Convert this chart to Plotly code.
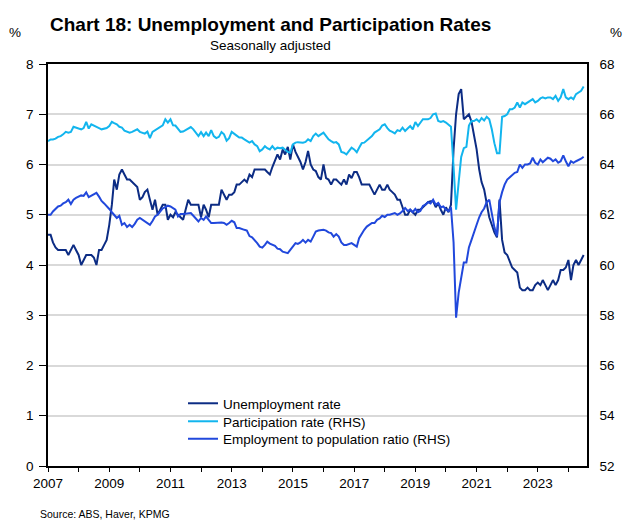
import pandas as pd
import plotly.graph_objects as go

# Monthly series, seasonally adjusted, starting January 2007
start_month = "2007-01-01"

unemployment = [
    4.6, 4.6, 4.45, 4.35, 4.3, 4.3, 4.3, 4.3, 4.2, 4.3, 4.4, 4.3,            # 2007
    4.2, 4.0, 4.1, 4.2, 4.2, 4.2, 4.15, 4.0, 4.3, 4.3, 4.4, 4.5,             # 2008
    4.8, 5.2, 5.7, 5.5, 5.8, 5.9, 5.8, 5.7, 5.7, 5.65, 5.6, 5.55,            # 2009
    5.3, 5.35, 5.45, 5.5, 5.3, 5.1, 5.3, 5.0, 5.1, 5.2, 5.2, 4.9,            # 2010
    5.0, 4.95, 5.05, 5.0, 4.95, 4.9, 5.1, 5.3, 5.2, 5.2, 5.2, 5.2,           # 2011
    4.95, 5.2, 5.1, 4.95, 5.2, 5.2, 5.2, 5.2, 5.5, 5.4, 5.3, 5.4,            # 2012
    5.4, 5.45, 5.6, 5.6, 5.65, 5.7, 5.65, 5.8, 5.75, 5.9, 5.9, 5.9,          # 2013
    5.9, 5.9, 5.85, 5.8, 5.95, 6.1, 6.2, 6.1, 6.3, 6.2, 6.35, 6.1,           # 2014
    6.4, 6.25, 6.15, 6.05, 5.9, 6.05, 6.27, 6.0, 5.9, 5.87, 5.75, 5.7,       # 2015
    6.0, 5.73, 5.7, 5.6, 5.7, 5.7, 5.65, 5.6, 5.7, 5.6, 5.8, 5.73,           # 2016
    5.85, 5.85, 5.75, 5.6, 5.6, 5.6, 5.6, 5.5, 5.4, 5.5, 5.6, 5.5,           # 2017
    5.5, 5.6, 5.5, 5.45, 5.4, 5.3, 5.3, 5.15, 5.0, 5.0, 5.1, 5.05,           # 2018
    5.0, 5.1, 5.1, 5.15, 5.2, 5.25, 5.27, 5.27, 5.15, 5.23, 5.1, 5.0,        # 2019
    5.15, 5.05, 5.2, 6.3, 7.0, 7.4, 7.5, 6.9, 6.95, 7.0, 6.85, 6.6,          # 2020
    6.3, 5.9, 5.65, 5.5, 5.2, 4.95, 4.8, 4.65, 4.55, 5.3, 4.5, 4.25,         # 2021
    4.2, 4.05, 3.95, 3.9, 3.85, 3.55, 3.5, 3.5, 3.55, 3.5, 3.5, 3.6,         # 2022
    3.65, 3.6, 3.7, 3.6, 3.5, 3.6, 3.7, 3.6, 3.7, 3.9, 3.9, 3.95,            # 2023
    4.1, 3.7, 4.0, 4.1, 4.0, 4.1, 4.2,                                       # 2024
]

participation = [
    64.93, 65.0, 65.0, 65.03, 65.1, 65.13, 65.2, 65.3, 65.27, 65.3, 65.5, 65.45,      # 2007
    65.43, 65.4, 65.45, 65.7, 65.43, 65.6, 65.56, 65.5, 65.45, 65.4, 65.43, 65.45,    # 2008
    65.53, 65.7, 65.65, 65.6, 65.5, 65.47, 65.35, 65.3, 65.27, 65.3, 65.35, 65.4,     # 2009
    65.3, 65.25, 65.23, 65.31, 65.05, 65.3, 65.37, 65.43, 65.5, 65.56, 65.8, 65.67,   # 2010
    65.8, 65.56, 65.55, 65.4, 65.3, 65.31, 65.37, 65.45, 65.49, 65.4, 65.25, 65.13,   # 2011
    65.29, 65.13, 65.27, 65.13, 65.37, 65.13, 65.05, 65.1, 65.29, 65.2, 64.95, 65.05, # 2012
    65.3, 65.2, 65.15, 65.07, 65.07, 65.0, 64.93, 64.87, 64.93, 64.8, 64.73, 64.53,   # 2013
    64.6, 64.73, 64.65, 64.6, 64.73, 64.6, 64.67, 64.65, 64.67, 64.6, 64.5, 64.47,    # 2014
    64.8, 64.87, 64.89, 64.88, 64.87, 64.9, 65.0, 64.93, 65.13, 65.23, 65.13, 65.2,   # 2015
    65.27, 65.13, 65.0, 64.93, 64.87, 64.89, 64.8, 64.5, 64.47, 64.4, 64.55, 64.67,   # 2016
    64.6, 64.49, 64.67, 64.85, 64.87, 64.95, 65.03, 65.13, 65.27, 65.35, 65.4, 65.55, # 2017
    65.6, 65.45, 65.35, 65.3, 65.24, 65.37, 65.33, 65.47, 65.33, 65.43, 65.53, 65.4,  # 2018
    65.69, 65.53, 65.67, 65.8, 65.8, 65.8, 65.85, 66.0, 66.03, 65.73, 65.69, 65.73,   # 2019
    65.67, 65.6, 65.5, 63.9, 62.2, 63.3, 64.3, 64.65, 64.7, 65.55, 65.73, 65.73,      # 2020
    65.8, 65.7, 65.85, 65.75, 65.9, 65.8, 65.4, 64.85, 64.45, 64.45, 65.9, 65.93,     # 2021
    66.0, 66.2, 66.2, 66.27, 66.47, 66.27, 66.47, 66.4, 66.47, 66.53, 66.6, 66.47,    # 2022
    66.53, 66.63, 66.67, 66.63, 66.67, 66.67, 66.6, 66.73, 66.53, 66.67, 67.0, 66.67, # 2023
    66.6, 66.67, 66.6, 66.8, 66.87, 66.93, 67.1,                                      # 2024
]

emp_pop = [
    62.0, 62.0, 62.13, 62.25, 62.33, 62.36, 62.45, 62.5, 62.6, 62.43, 62.6, 62.67,    # 2007
    62.73, 62.77, 62.75, 62.89, 62.7, 62.75, 62.82, 62.87, 62.72, 62.55, 62.45, 62.36,# 2008
    62.23, 62.1, 62.0, 61.87, 61.96, 61.6, 61.67, 61.51, 61.6, 61.51, 61.64, 61.8,    # 2009
    61.87, 61.8, 61.73, 61.64, 61.6, 61.75, 61.93, 62.0, 62.15, 62.25, 62.3, 62.36,   # 2010
    62.33, 62.25, 62.2, 61.93, 62.03, 62.03, 62.05, 62.07, 62.07, 61.96, 61.85, 61.73,# 2011
    61.87, 61.8, 61.93, 61.77, 61.67, 61.67, 61.68, 61.68, 61.69, 61.67, 61.6, 61.67, # 2012
    61.76, 61.7, 61.47, 61.47, 61.42, 61.4, 61.37, 61.15, 61.1, 61.0, 60.87, 60.73,   # 2013
    60.69, 60.8, 60.93, 60.85, 60.8, 60.76, 60.65, 60.63, 60.53, 60.5, 60.47, 60.6,   # 2014
    60.73, 60.87, 60.84, 60.9, 61.0, 60.89, 61.0, 60.93, 61.13, 61.33, 61.37, 61.4,   # 2015
    61.4, 61.37, 61.3, 61.27, 61.13, 61.23, 61.13, 60.9, 60.8, 60.8, 60.83, 60.87,    # 2016
    60.8, 60.73, 61.07, 61.27, 61.4, 61.53, 61.6, 61.67, 61.67, 61.8, 61.85, 61.96,   # 2017
    61.91, 62.0, 62.0, 62.03, 62.07, 62.0, 62.05, 62.15, 62.27, 62.15, 62.2, 62.1,    # 2018
    62.23, 62.1, 62.15, 62.35, 62.4, 62.5, 62.45, 62.6, 62.4, 62.47, 62.3, 62.33,     # 2019
    62.2, 62.15, 62.3, 60.9, 57.9, 58.9, 59.5, 60.1, 60.1, 60.7, 61.0, 61.33,         # 2020
    61.6, 61.9, 62.1, 62.25, 62.5, 62.6, 62.1, 61.5, 61.15, 62.5, 62.9, 63.2,         # 2021
    63.4, 63.5, 63.6, 63.67, 63.7, 64.0, 63.87, 64.0, 64.0, 64.04, 64.27, 64.07,      # 2022
    64.0, 64.2, 64.09, 64.2, 64.27, 64.23, 64.13, 64.2, 64.07, 64.13, 64.36, 64.13,   # 2023
    63.93, 64.13, 64.07, 64.13, 64.17, 64.23, 64.31,                                  # 2024
]

series_names = [
    "Unemployment rate",
    "Participation rate (RHS)",
    "Employment to population ratio (RHS)",
]
series_colors = ["#0C2C84", "#12B5EE", "#2148DC"]

left_ticks = list(range(0, 9, 1))
right_ticks = list(range(52, 69, 2))
tick_years = list(range(2007, 2025))

months = pd.date_range(start_month, periods=len(unemployment), freq="MS")

FONT = "Liberation Sans, Arial, sans-serif"
W, H = 626, 520
M_L, M_R, M_T, M_B = 48, 39, 64, 54
PW, PH = W - M_L - M_R, H - M_T - M_B


def px_x(x):
    return (x - M_L) / PW


def px_y(y):
    return (H - M_B - y) / PH


fig = go.Figure()
legend_ids = ["legend", "legend2", "legend3"]
axes = ["y", "y2", "y2"]
values = [unemployment, participation, emp_pop]
for name, color, vals, ax, lg in zip(series_names, series_colors, values, axes, legend_ids):
    fig.add_trace(go.Scatter(x=months, y=vals, name=name, mode="lines",
                             line=dict(color=color, width=2), yaxis=ax, legend=lg))

# one legend box per row, stacked under the lines
legend_rows = {}
for lg, top in zip(legend_ids, [388, 406, 423.5]):
    legend_rows[lg] = dict(x=px_x(183), y=px_y(top), xanchor="left", yanchor="top",
                           bgcolor="rgba(0,0,0,0)", borderwidth=0,
                           font=dict(family=FONT, size=13.5, color="black"))

fig.update_layout(
    width=W, height=H,
    margin=dict(l=M_L, r=M_R, t=M_T, b=M_B, pad=0),
    paper_bgcolor="white", plot_bgcolor="white",
    font=dict(family=FONT, size=13.5, color="black"),
    showlegend=True,
    **legend_rows,
    xaxis=dict(
        type="date",
        range=[months[0], "2024-08-10"],
        tickvals=[f"{y}-01-01" for y in tick_years],
        ticktext=[str(y) if y % 2 == 1 else "" for y in tick_years],
        ticks="outside", ticklen=4, tickcolor="black", tickwidth=1,
        showline=True, linecolor="black", linewidth=1.5, mirror=True,
        showgrid=False, zeroline=False,
        tickfont=dict(size=13.5),
    ),
    yaxis=dict(
        range=[0, 8], tickvals=left_ticks,
        ticks="outside", ticklen=7, tickcolor="black",
        showline=True, linecolor="black", linewidth=1.5,
        showgrid=True, gridcolor="#d9d9d9", gridwidth=1.5, zeroline=False,
        ticklabelstandoff=3,
        tickfont=dict(size=13.5),
    ),
    yaxis2=dict(
        range=[52, 68], tickvals=right_ticks, overlaying="y", side="right",
        ticks="", showline=True, linecolor="black", linewidth=1.5,
        showgrid=False, zeroline=False, ticklabelstandoff=8,
        tickfont=dict(size=13.5),
    ),
)

annotations = [
    dict(text="<b>Chart 18: Unemployment and Participation Rates</b>",
         x=px_x(270), y=px_y(24), font=dict(size=19)),
    dict(text="Seasonally adjusted", x=px_x(270), y=px_y(45), font=dict(size=13.5)),
    dict(text="%", x=px_x(15), y=px_y(33), font=dict(size=13.5)),
    dict(text="%", x=px_x(616), y=px_y(33), font=dict(size=13.5)),
]
for a in annotations:
    fig.add_annotation(xref="paper", yref="paper", showarrow=False,
                       xanchor="center", yanchor="middle", **a)

fig.add_annotation(text="Source: ABS, Haver, KPMG", xref="paper", yref="paper",
                   x=px_x(38), y=px_y(514), xanchor="left", yanchor="middle",
                   showarrow=False, font=dict(size=10.5))

fig.write_html("out.html")
